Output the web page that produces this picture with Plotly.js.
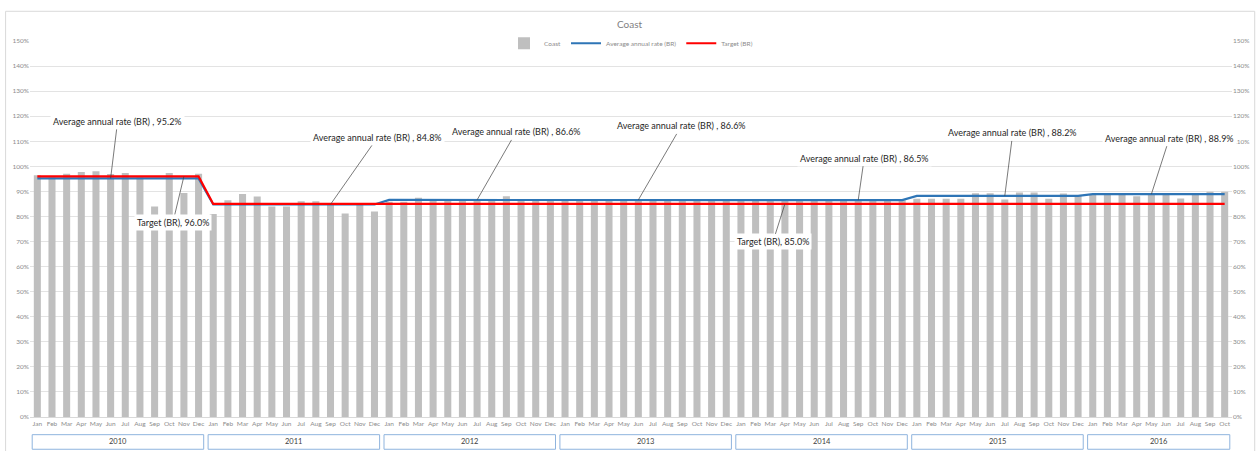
<!DOCTYPE html>
<html><head><meta charset="utf-8">
<script src="https://cdn.plot.ly/plotly-3.0.1.min.js"></script>
<style>html,body{margin:0;padding:0;background:#fff}#chart{width:1259px;height:451px}</style>
</head><body><div id="chart"></div>
<script>
const years = [2010, 2011, 2012, 2013, 2014, 2015, 2016];
const monthNames = ['Jan','Feb','Mar','Apr','May','Jun','Jul','Aug','Sep','Oct','Nov','Dec'];
const monthsPerYear = [12, 12, 12, 12, 12, 12, 10];
const coast2010 = [96.4, 95.5, 97.0, 97.7, 98.0, 96.9, 97.3, 95.5, 84.0, 97.3, 89.4, 97.0];
const coast2011 = [81.0, 86.5, 89.0, 88.0, 84.0, 84.0, 86.1, 86.1, 85.0, 81.2, 84.8, 82.0];
const coast2012 = [85.9, 85.9, 87.5, 86.3, 86.3, 86.3, 86.3, 86.3, 88.1, 86.5, 86.5, 86.5];
const coast2013 = [86.4, 86.6, 86.5, 86.7, 86.6, 86.6, 86.5, 86.7, 86.6, 86.6, 86.7, 86.6];
const coast2014 = [86.4, 86.5, 86.6, 86.5, 86.4, 86.5, 86.6, 86.5, 86.5, 86.4, 86.6, 86.5];
const coast2015 = [87.1, 87.1, 87.1, 87.1, 89.3, 89.3, 86.8, 89.6, 89.6, 87.1, 89.2, 88.4];
const coast2016 = [88.9, 88.9, 88.9, 88.1, 88.9, 88.9, 87.2, 88.9, 89.9, 89.9];
const avgRate = [95.2, 84.8, 86.6, 86.6, 86.5, 88.2, 88.9];
const target = [96.0, 85.0, 85.0, 85.0, 85.0, 85.0, 85.0];
// annotation anchors (month position within the year)
const avgLabelMonths = [5, 8, 6, 5, 8, 6, 4];
const targetLabels = [[0, 10], [4, 3]];

const coastByYear = [coast2010, coast2011, coast2012, coast2013, coast2014, coast2015, coast2016];
const xIdx = [], tickText = [], coast = [], avgLine = [], targetLine = [];
const yearStart = [];
let k = 0;
years.forEach((y, yi) => {
  yearStart.push(k);
  for (let m = 0; m < monthsPerYear[yi]; m++) {
    xIdx.push(k); tickText.push(monthNames[m]);
    coast.push(coastByYear[yi][m]);
    avgLine.push(avgRate[yi]); targetLine.push(target[yi]);
    k++;
  }
});

const font = 'Lato, Carlito, Calibri, sans-serif';
const traces = [
  {type: 'bar', name: 'Coast', x: xIdx, y: coast, marker: {color: '#BFBFBF'}, hoverinfo: 'skip'},
  {type: 'scatter', mode: 'lines', name: 'Average annual rate (BR)', x: xIdx, y: avgLine,
   line: {color: '#2E75B6', width: 2.2}, hoverinfo: 'skip'},
  {type: 'scatter', mode: 'lines', name: 'Target (BR)', x: xIdx, y: targetLine, yaxis: 'y2',
   line: {color: '#FF0000', width: 2.2}, hoverinfo: 'skip'}
];

const avgOffsets = [[7, -57], [47, -67], [39, -68], [43, -74], [6, -42], [8, -63], [18, -56]];
const targetOffsets = [[-11, 46], [-12, 38]];
const annotations = [];
avgLabelMonths.forEach((m, yi) => {
  annotations.push({
    x: yearStart[yi] + m, y: avgRate[yi], xref: 'x', yref: 'y',
    text: 'Average annual rate (BR) , ' + avgRate[yi].toFixed(1) + '%',
    showarrow: true, arrowhead: 0, arrowwidth: 0.7, arrowcolor: '#404040',
    ax: avgOffsets[yi][0], ay: avgOffsets[yi][1], bgcolor: '#FFFFFF', borderpad: 2,
    font: {family: font, size: 9, color: '#262626'}
  });
});
targetLabels.forEach((t, i) => {
  const yi = t[0];
  annotations.push({
    x: yearStart[yi] + t[1], y: target[yi], xref: 'x', yref: 'y',
    text: 'Target (BR), ' + target[yi].toFixed(1) + '%',
    showarrow: true, arrowhead: 0, arrowwidth: 0.7, arrowcolor: '#404040',
    ax: targetOffsets[i][0], ay: targetOffsets[i][1], bgcolor: '#FFFFFF', borderpad: 2,
    font: {family: font, size: 9, color: '#262626'}
  });
});
const shapes = [
  {type: 'rect', xref: 'paper', yref: 'paper', x0: -0.0203, x1: 1.0189, y0: -0.1, y1: 1.079,
   line: {color: '#D9D9D9', width: 1}, fillcolor: 'rgba(0,0,0,0)', layer: 'below'}
];
years.forEach((y, yi) => {
  const first = yearStart[yi], last = yearStart[yi] + monthsPerYear[yi] - 1;
  shapes.push({type: 'rect', xref: 'x', yref: 'paper', x0: first - 0.35, x1: last + 0.35,
    y0: -0.0858, y1: -0.047, line: {color: '#8FB4DE', width: 1}, fillcolor: 'rgba(0,0,0,0)'});
  annotations.push({x: (first + last) / 2, y: -0.0664, xref: 'x', yref: 'paper', text: String(y),
    showarrow: false, yanchor: 'middle', font: {family: font, size: 7.5, color: '#404040'}});
});

const yCommon = {range: [0, 150], dtick: 10, ticksuffix: '%', fixedrange: true,
  tickfont: {family: font, size: 6.5, color: '#8C8C8C'}, zeroline: false};
const layout = {
  width: 1259, height: 451,
  margin: {l: 30, r: 27, t: 41, b: 34},
  paper_bgcolor: '#FFFFFF', plot_bgcolor: '#FFFFFF',
  font: {family: font},
  title: {text: 'Coast', x: 0.5, xanchor: 'center', y: 0.945, yanchor: 'middle', yref: 'container',
    font: {family: font, size: 10, color: '#7F7F7F'}},
  showlegend: true,
  legend: {orientation: 'h', x: 0.5, xanchor: 'center', y: 0.994, yanchor: 'middle',
    font: {family: font, size: 6.5, color: '#8C8C8C'}, bgcolor: 'rgba(0,0,0,0)', itemwidth: 30},
  bargap: 0.52,
  xaxis: {range: [-0.5, 81.5], tickvals: xIdx, ticktext: tickText, tickangle: 0, showgrid: false,
    zeroline: false, showline: true, linecolor: '#D9D9D9', ticks: '', fixedrange: true,
    tickfont: {family: font, size: 6.5, color: '#8C8C8C'}},
  yaxis: Object.assign({}, yCommon, {showgrid: true, gridcolor: '#E3E3E3', gridwidth: 1}),
  yaxis2: Object.assign({}, yCommon, {overlaying: 'y', side: 'right', showgrid: false}),
  shapes: shapes,
  annotations: annotations
};
Plotly.newPlot('chart', traces, layout, {displayModeBar: false, staticPlot: true});
</script></body></html>
